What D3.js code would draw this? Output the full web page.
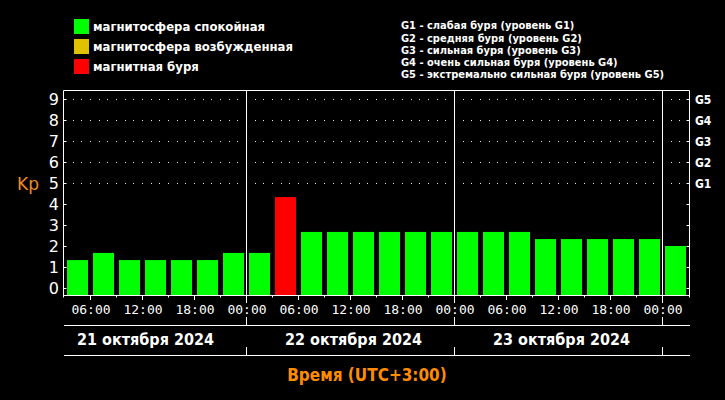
<!DOCTYPE html>
<html><head><meta charset="utf-8">
<script src="https://cdn.jsdelivr.net/npm/d3@7"></script>
<style>body{margin:0;background:#000}svg{display:block}</style>
</head><body>
<svg id="c" width="725" height="400"></svg>
<script>
// ---- data ----
const periodStarts = [
  "2024-10-21T03:00Z","2024-10-21T06:00Z","2024-10-21T09:00Z","2024-10-21T12:00Z",
  "2024-10-21T15:00Z","2024-10-21T18:00Z","2024-10-21T21:00Z","2024-10-22T00:00Z",
  "2024-10-22T03:00Z","2024-10-22T06:00Z","2024-10-22T09:00Z","2024-10-22T12:00Z",
  "2024-10-22T15:00Z","2024-10-22T18:00Z","2024-10-22T21:00Z","2024-10-23T00:00Z",
  "2024-10-23T03:00Z","2024-10-23T06:00Z","2024-10-23T09:00Z","2024-10-23T12:00Z",
  "2024-10-23T15:00Z","2024-10-23T18:00Z","2024-10-23T21:00Z","2024-10-24T00:00Z"
];
const kpValues = [1.33,1.67,1.33,1.33,1.33,1.33,1.67,1.67,
                  4.33,2.67,2.67,2.67,2.67,2.67,2.67,2.67,
                  2.67,2.67,2.33,2.33,2.33,2.33,2.33,2.0];
const kpStatus = ["quiet","quiet","quiet","quiet","quiet","quiet","quiet","quiet",
                  "storm","quiet","quiet","quiet","quiet","quiet","quiet","quiet",
                  "quiet","quiet","quiet","quiet","quiet","quiet","quiet","quiet"];
const statusKeys = ["quiet","active","storm"];
const statusLabels = ["магнитосфера спокойная","магнитосфера возбужденная","магнитная буря"];
const statusColors = ["#00ff00","#e0c000","#ff0000"];
const yTickValues = [0,1,2,3,4,5,6,7,8,9];
const gLevels = [5,6,7,8,9];
const gTickLabels = ["G1","G2","G3","G4","G5"];
const gLegendLines = [
  "G1 - слабая буря (уровень G1)",
  "G2 - средняя буря (уровень G2)",
  "G3 - сильная буря (уровень G3)",
  "G4 - очень сильная буря (уровень G4)",
  "G5 - экстремально сильная буря (уровень G5)"
];
const dayStarts = ["2024-10-21T00:00Z","2024-10-22T00:00Z","2024-10-23T00:00Z","2024-10-24T00:00Z"];
const dayLabels = ["21 октября 2024","22 октября 2024","23 октября 2024"];
const domainStart = "2024-10-21T03:00Z", domainEnd = "2024-10-24T03:00Z";
const yAxisTitle = "Kp";
const xAxisTitle = "Время (UTC+3:00)";

(function(){
const svg = d3.select("#c");
svg.append("rect").attr("width",725).attr("height",400).attr("fill","#000");
const W = "#ffffff";
const x = d3.scaleUtc().domain([new Date(domainStart), new Date(domainEnd)]).range([64.5, 688.5]);
const y = d3.scaleLinear().domain([0,9]).range([288,99]);
const pTop = 90.5, pBottom = 295.5, pLeft = 63.5, pRight = 689.5;
const color = d3.scaleOrdinal().domain(statusKeys).range(statusColors);

// bars
const bars = periodStarts.map((s,i)=>({t:new Date(s), v:kpValues[i], st:kpStatus[i]}));
svg.append("g").selectAll("rect").data(bars).join("rect")
  .attr("x", d=>x(d.t)+2.5)
  .attr("width", d=>x(d3.utcHour.offset(d.t,3))-x(d.t)-5)
  .attr("y", d=>y(d.v))
  .attr("height", d=>pBottom - y(d.v))
  .attr("fill", d=>color(d.st));

// dotted grid for G levels (every 1.5 h)
const dayDates = dayStarts.map(s=>new Date(s));
const dotTimes = d3.utcMinute.every(90).range(new Date(domainStart), new Date(domainEnd))
  .filter(t => +t !== +new Date(domainStart) && t.getUTCHours()+t.getUTCMinutes() !== 0);
const dots = [];
gLevels.forEach(l => dotTimes.forEach(t => dots.push({t, l})));
svg.append("g").selectAll("rect").data(dots).join("rect")
  .attr("x", d=>Math.floor(x(d.t))).attr("y", d=>Math.round(y(d.l)))
  .attr("width",1).attr("height",1).attr("fill","#e8e8e8");

// frame
const frame = svg.append("g").attr("stroke", W).attr("stroke-width",1).attr("fill","none");
frame.append("line").attr("x1",pLeft).attr("x2",pRight).attr("y1",pTop).attr("y2",pTop);
frame.append("line").attr("x1",pLeft).attr("x2",pRight).attr("y1",pBottom).attr("y2",pBottom);
frame.append("line").attr("x1",pLeft).attr("x2",pLeft).attr("y1",pTop).attr("y2",297.5);
frame.append("line").attr("x1",pRight).attr("x2",pRight).attr("y1",pTop).attr("y2",297.5);

// day boundary lines
dayDates.slice(1).forEach(d=>{
  const xx = Math.floor(x(d))+0.5;
  frame.append("line").attr("x1",xx).attr("x2",xx).attr("y1",pTop).attr("y2",303);
  frame.append("line").attr("x1",xx).attr("x2",xx).attr("y1",317).attr("y2",325);
  frame.append("line").attr("x1",xx).attr("x2",xx).attr("y1",347).attr("y2",355);
});
frame.append("line").attr("x1",64).attr("x2",690).attr("y1",325.5).attr("y2",325.5);
frame.append("line").attr("x1",64).attr("x2",690).attr("y1",355.5).attr("y2",355.5);

// bottom ticks (3h short, 6h longer)
const tick3 = d3.utcHour.every(3).range(d3.utcHour.offset(new Date(domainStart),3), new Date(domainEnd));
svg.append("g").selectAll("line").data(tick3.filter(t=>t.getUTCHours()!==0)).join("line")
  .attr("x1", d=>Math.floor(x(d))+0.5).attr("x2", d=>Math.floor(x(d))+0.5)
  .attr("y1", pBottom).attr("y2", d=> d.getUTCHours()%6===0 ? 300 : 297.5)
  .attr("stroke", W);

// y axis inward ticks
const yl = svg.append("g").attr("transform",`translate(${pLeft},0)`)
  .call(d3.axisRight(y).tickValues(yTickValues).tickSize(3).tickFormat(""));
const yr = svg.append("g").attr("transform",`translate(${pRight},0)`)
  .call(d3.axisLeft(y).tickValues(yTickValues).tickSize(3).tickFormat(""));
[yl,yr].forEach(g=>{ g.select(".domain").remove(); g.selectAll("line").attr("stroke",W); });

// y tick labels
const ylab = svg.append("g").attr("transform","translate(59,0)")
  .call(d3.axisLeft(y).tickValues(yTickValues).tickSize(0).tickPadding(0));
ylab.select(".domain").remove();
ylab.selectAll("text").attr("fill",W).attr("font-family","DejaVu Sans").attr("font-size",16)
  .attr("dy","0.36em");

// G labels
const gScale = d3.scaleOrdinal().domain(gLevels).range(gTickLabels);
const gl = svg.append("g").attr("transform","translate(695,0)")
  .call(d3.axisRight(y).tickValues(gLevels).tickSize(0).tickPadding(0).tickFormat(d=>gScale(d)));
gl.select(".domain").remove();
gl.selectAll("text").attr("fill",W).attr("font-family","DejaVu Sans Condensed, DejaVu Sans")
  .attr("font-weight","bold").attr("font-size",12).attr("dy","0.36em");

// time labels
const xa = svg.append("g").attr("transform","translate(0,305)")
  .call(d3.axisBottom(x).ticks(d3.utcHour.every(6)).tickSize(0).tickPadding(0).tickFormat(d3.utcFormat("%H:%M")));
xa.select(".domain").remove();
xa.selectAll("text").attr("fill",W).attr("font-family","DejaVu Sans Mono").attr("font-size",13)
  .attr("dy","0.72em");

// day labels
svg.append("g").selectAll("text").data(dayLabels).join("text")
  .attr("x",(d,i)=>x(d3.utcHour.offset(dayDates[i],12))+3)
  .attr("y",344.5).attr("text-anchor","middle")
  .attr("fill",W).attr("font-family","DejaVu Sans Condensed, DejaVu Sans").attr("font-weight","bold")
  .attr("font-size",16).text(d=>d);

// axis titles
svg.append("text").attr("x",367).attr("y",381).attr("text-anchor","middle")
  .attr("fill","#ff8c00").attr("font-family","DejaVu Sans Condensed, DejaVu Sans").attr("font-weight","bold")
  .attr("font-size",17).text(xAxisTitle);
svg.append("text").attr("x",17).attr("y",189.5)
  .attr("fill","#f08c1e").attr("font-family","DejaVu Sans").attr("font-size",17).text(yAxisTitle);

// legend (status)
const lg = svg.append("g").selectAll("g").data(statusLabels).join("g")
  .attr("transform",(d,i)=>`translate(74,${19+i*20})`);
lg.append("rect").attr("width",15).attr("height",15).attr("fill",(d,i)=>statusColors[i]);
lg.append("text").attr("x",19).attr("y",12).attr("fill",W)
  .attr("font-family","DejaVu Sans").attr("font-weight","bold").attr("font-size",11.7).text(d=>d);

// legend (G levels)
svg.append("g").selectAll("text").data(gLegendLines).join("text")
  .attr("x",401).attr("y",(d,i)=>29.3+i*12.2).attr("fill",W)
  .attr("font-family","DejaVu Sans Condensed, DejaVu Sans").attr("font-weight","bold")
  .attr("font-size",11).text(d=>d);
})();
</script>
</body></html>
